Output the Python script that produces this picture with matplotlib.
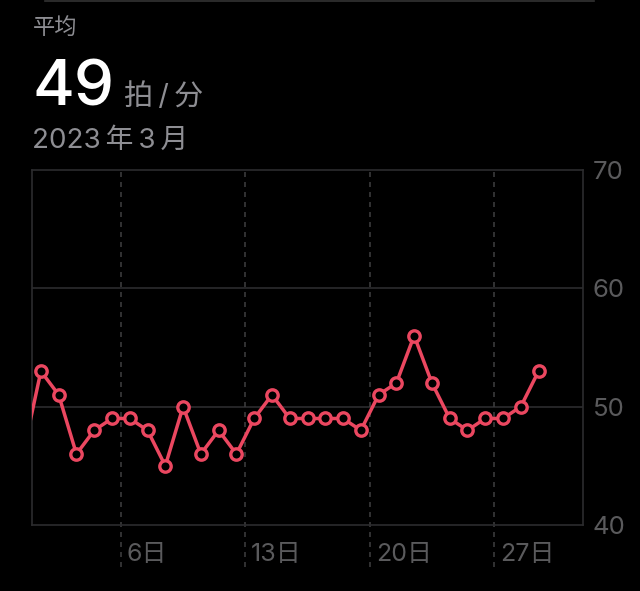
import matplotlib
matplotlib.use("Agg")
import matplotlib.pyplot as plt
from matplotlib.transforms import ScaledTranslation
from matplotlib.lines import Line2D

FAM = ['Inter', 'Noto Sans CJK SC', 'DejaVu Sans']
plt.rcParams['font.family'] = FAM

# ---- data ----
days = list(range(0, 30))  # day 0 = last day of previous month
values = [46, 53, 51, 46, 48, 49, 49, 48, 45, 50, 46, 48, 46, 49, 51, 49,
          49, 49, 49, 48, 51, 52, 56, 52, 49, 48, 49, 49, 50, 53]
week_ticks = [6, 13, 20, 27]
week_labels = ["6日", "13日", "20日", "27日"]
y_ticks = [40, 50, 60, 70]
title_label = "平均"
avg_value = "49"
unit_label = "拍\u2009/\u2009分"
period_label = "2023\u2009年\u20093\u2009月"

W, H = 640, 591
fig = plt.figure(figsize=(W / 100, H / 100), dpi=100, facecolor="black")

def px(x, y):
    return x / W, 1 - y / H

ax = fig.add_axes([32 / W, 1 - 525 / H, 551 / W, 355 / H])
ax.set_facecolor("black")

grid_c = "#2c2c2e"
tick_c = "#5a5a5c"
line_c = "#eb4760"

ax.set_xlim(0.5, 31.5)
ax.set_ylim(40, 70)

for s in ax.spines.values():
    s.set_color(grid_c)
    s.set_linewidth(1.2)

for yv in y_ticks[1:-1]:
    ax.axhline(yv, color=grid_c, lw=1.2, zorder=1)

for d in week_ticks:
    ax.axvline(d - 0.5, ymin=-0.118, ymax=1, color="#3a3a3c", lw=1.2,
               ls=(0, (3, 3)), clip_on=False, zorder=1)

ax.yaxis.tick_right()
ax.set_yticks(y_ticks)
ax.set_yticklabels([str(v) for v in y_ticks])
ax.tick_params(axis="y", length=0, pad=7, labelsize=18.5, labelcolor=tick_c)

ax.set_xticks([d - 0.5 for d in week_ticks])
ax.set_xticklabels(week_labels)
ax.tick_params(axis="x", length=0, pad=13, labelsize=18, labelcolor=tick_c)
for lab in ax.get_xticklabels():
    lab.set_ha("left")
    lab.set_transform(lab.get_transform() + ScaledTranslation(6 / 100, 0, fig.dpi_scale_trans))

ax.plot(days, values, color=line_c, lw=2.5, marker="o", ms=8.2, mew=2.4,
        mfc="black", mec=line_c, zorder=3, solid_joinstyle="round")

fig.text(*px(33, 34), title_label, color="#8e8e93", fontsize=16, va="baseline", ha="left")
fig.text(*px(32, 105), avg_value, color="white", fontsize=46, va="baseline", ha="left",
         fontweight="medium")
fig.text(*px(124, 105), unit_label, color="#8e8e93", fontsize=21, va="baseline", ha="left")
fig.text(*px(32, 148), period_label, color="#8e8e93", fontsize=20, va="baseline", ha="left")

fig.add_artist(Line2D([45 / W, 594 / W], [1 - 0.8 / H, 1 - 0.8 / H], color="#333333", lw=1.2))

fig.savefig("out.png", dpi=100, facecolor="black")
